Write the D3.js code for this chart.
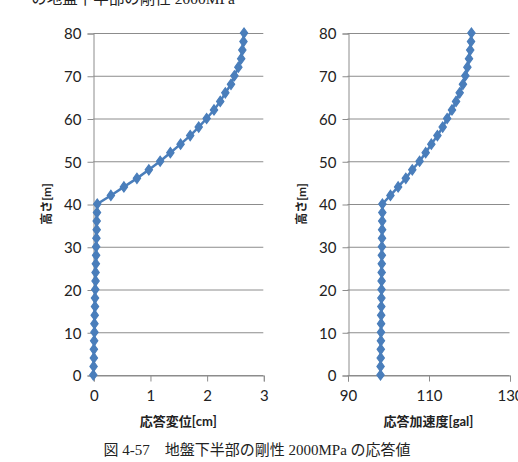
<!DOCTYPE html>
<html>
<head>
<meta charset="utf-8">
<script src="https://cdn.jsdelivr.net/npm/d3@7"></script>
<style>
  body { margin: 0; background: #fff; }
  svg { display: block; }
</style>
</head>
<body>
<div id="chart"></div>
<script>
// heights of the nodes [m]
var heights = [0, 2, 4, 6, 8, 10, 12, 14, 16, 18, 20, 22, 24, 26, 28, 30, 32, 34, 36, 38, 40,
  42, 44, 46, 48, 50, 52, 54, 56, 58, 60, 62, 64, 66, 68, 70, 72, 74, 76, 78, 80];

// response displacement [cm]
var dispValues = [0.00, 0.005, 0.01, 0.01, 0.015, 0.02, 0.02, 0.025, 0.03, 0.03, 0.035,
  0.04, 0.04, 0.045, 0.05, 0.05, 0.055, 0.06, 0.06, 0.065, 0.07,
  0.31, 0.54, 0.77, 0.98, 1.18, 1.36, 1.54, 1.71, 1.86, 2.00,
  2.13, 2.24, 2.33, 2.43, 2.49, 2.56, 2.61, 2.63, 2.65, 2.66];

// response acceleration [gal]
var accValues = [98.15, 98.17, 98.2, 98.22, 98.25, 98.27, 98.3, 98.32, 98.35, 98.37, 98.4,
  98.42, 98.44, 98.46, 98.48, 98.5, 98.52, 98.55, 98.57, 98.6, 98.62,
  100.6, 102.5, 104.4, 106.0, 107.8, 109.3, 110.7, 112.2, 113.5, 114.6,
  115.8, 116.8, 117.7, 118.5, 119.1, 119.6, 120.0, 120.3, 120.5, 120.6];

var yTicks = [0, 10, 20, 30, 40, 50, 60, 70, 80];
var dispTicks = [0, 1, 2, 3];
var accTicks = [90, 110, 130];

var yLabel = '高さ[m]';
var dispLabel = '応答変位[cm]';
var accLabel = '応答加速度[gal]';
var caption = '図 4-57　地盤下半部の剛性 2000MPa の応答値';
var prevCaption = 'の地盤下半部の剛性 2000MPa';

var width = 518, height = 462;
var tickFont = 'Lato, "Open Sans", sans-serif';
var jpFont = 'Lato, "Noto Sans CJK JP", sans-serif';
var serifFont = '"Liberation Serif", "Noto Sans CJK JP", serif';

var svg = d3.select('#chart').append('svg')
    .attr('width', width)
    .attr('height', height);

// tail of the previous caption, cut at the top of the page
svg.append('text')
    .attr('x', 235)
    .attr('y', 4)
    .attr('text-anchor', 'end')
    .attr('font-family', serifFont)
    .attr('font-size', '15.5px')
    .attr('fill', '#222')
    .text(prevCaption);

function drawPanel(opts) {
  var x = d3.scaleLinear().domain(opts.xDomain).range([opts.left, opts.right]);
  var y = d3.scaleLinear().domain([0, 80]).range([375, 33]);

  var g = svg.append('g');

  // horizontal grid lines
  g.selectAll('line.grid')
    .data(yTicks)
    .enter().append('line')
      .attr('class', 'grid')
      .attr('x1', opts.left)
      .attr('x2', opts.right)
      .attr('y1', function(d) { return y(d) + 0.5; })
      .attr('y2', function(d) { return y(d) + 0.5; })
      .attr('stroke', '#8c8c8c')
      .attr('stroke-width', 1);

  // y axis
  var yAxis = d3.axisLeft(y).tickValues(yTicks).tickSize(6).tickPadding(6)
      .tickFormat(d3.format('d'));
  var ya = g.append('g')
      .attr('transform', 'translate(' + (Math.round(opts.left) + 0.5) + ',0.5)')
      .call(yAxis);

  // x axis
  var xAxis = d3.axisBottom(x).tickValues(opts.xTicks).tickSize(6).tickPadding(9)
      .tickFormat(d3.format('d'));
  var xa = g.append('g')
      .attr('transform', 'translate(0.5,' + (y(0) + 0.5) + ')')
      .call(xAxis);

  [ya, xa].forEach(function(a) {
    a.select('.domain').attr('stroke', '#8c8c8c');
    a.selectAll('.tick line').attr('stroke', '#8c8c8c');
    a.selectAll('.tick text')
      .attr('font-family', tickFont)
      .attr('font-size', '15px')
      .attr('fill', '#222');
  });
  ya.selectAll('.tick text').attr('dy', '0.36em');

  // axis titles
  g.append('text')
      .attr('transform', 'translate(' + opts.yLabelX + ',204) rotate(-90)')
      .attr('text-anchor', 'middle')
      .attr('dy', '0.35em')
      .attr('font-family', jpFont)
      .attr('font-weight', 'bold')
      .attr('font-size', '12px')
      .attr('fill', '#222')
      .text(yLabel);

  g.append('text')
      .attr('x', (opts.left + opts.right) / 2)
      .attr('y', 421)
      .attr('text-anchor', 'middle')
      .attr('dy', '0.35em')
      .attr('font-family', jpFont)
      .attr('font-weight', 'bold')
      .attr('font-size', '13px')
      .attr('fill', '#222')
      .text(opts.xLabel);

  var data = heights.map(function(h, i) { return { h: h, v: opts.values[i] }; });

  var line = d3.line()
      .x(function(d) { return x(d.v); })
      .y(function(d) { return y(d.h); });

  g.append('path')
      .datum(data)
      .attr('d', line)
      .attr('fill', 'none')
      .attr('stroke', '#4a7ebb')
      .attr('stroke-width', 2.5);

  var diamond = d3.symbol().type(d3.symbolDiamond).size(30);
  g.selectAll('path.marker')
    .data(data)
    .enter().append('path')
      .attr('class', 'marker')
      .attr('d', diamond)
      .attr('transform', function(d) { return 'translate(' + x(d.v) + ',' + y(d.h) + ') scale(1.25,1)'; })
      .attr('fill', '#4a7ebb')
      .attr('stroke', '#4a7ebb')
      .attr('stroke-width', 1);
}

drawPanel({
  left: 93.3, right: 263.3,
  xDomain: [0, 3], xTicks: dispTicks,
  values: dispValues, xLabel: dispLabel, yLabelX: 47
});

drawPanel({
  left: 347.5, right: 509.5,
  xDomain: [90, 130], xTicks: accTicks,
  values: accValues, xLabel: accLabel, yLabelX: 302
});

// figure caption
svg.append('text')
    .attr('x', 257)
    .attr('y', 450)
    .attr('text-anchor', 'middle')
    .attr('dy', '0.35em')
    .attr('font-family', serifFont)
    .attr('font-size', '15px')
    .attr('fill', '#222')
    .text(caption);
</script>
</body>
</html>
